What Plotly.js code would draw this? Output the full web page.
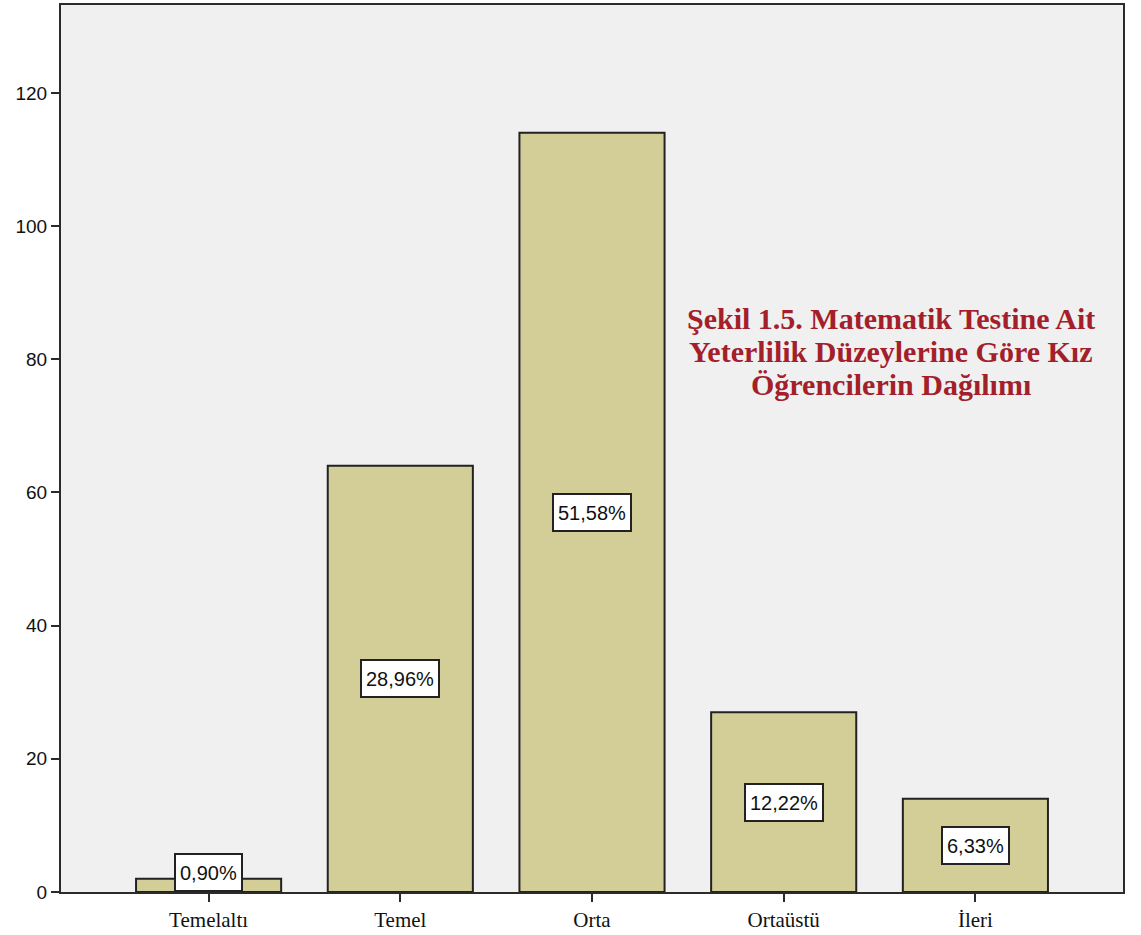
<!DOCTYPE html>
<html>
<head>
<meta charset="utf-8">
<script src="https://cdn.plot.ly/plotly-3.0.1.min.js"></script>
<style>html,body{margin:0;padding:0;background:#fff;}#chart{width:1141px;height:935px;}</style>
</head>
<body>
<div id="chart"></div>
<script>
const categories = ["Temelaltı", "Temel", "Orta", "Ortaüstü", "İleri"];
const counts = [2, 64, 114, 27, 14];
const percentLabels = ["0,90%", "28,96%", "51,58%", "12,22%", "6,33%"];
const yTicks = [0, 20, 40, 60, 80, 100, 120];
const titleLines = ["Şekil 1.5. Matematik Testine Ait", "Yeterlilik Düzeylerine Göre Kız", "Öğrencilerin Dağılımı"];

const trace = {
  type: "bar",
  x: categories,
  y: counts,
  width: 0.757,
  marker: {color: "#D3CE97", line: {color: "#222", width: 2}},
  hoverinfo: "skip"
};

const annotations = categories.map((c, i) => {
  const small = counts[i] / 2 < 3;
  return {
    x: c, y: small ? 0 : counts[i] / 2,
    xref: "x", yref: "y",
    yanchor: small ? "bottom" : "middle",
    text: percentLabels[i],
    showarrow: false,
    font: {family: "Liberation Sans, Arial, sans-serif", size: 20, color: "#111"},
    bgcolor: "#ffffff",
    bordercolor: "#222",
    borderwidth: 2,
    borderpad: 4,
    height: 27
  };
});

const titleY = [0.647, 0.609, 0.572];
titleLines.forEach((line, i) => {
  annotations.push({
    xref: "paper", yref: "paper",
    x: 0.782, y: titleY[i],
    xanchor: "center", yanchor: "middle",
    text: "<b>" + line + "</b>",
    showarrow: false,
    font: {family: "Liberation Serif, Times New Roman, serif", size: 30, color: "#A3202A"}
  });
});

const layout = {
  width: 1141, height: 935,
  margin: {l: 61, r: 18, t: 5, b: 43},
  paper_bgcolor: "#ffffff",
  plot_bgcolor: "#F0F0F0",
  showlegend: false,
  bargap: 0,
  xaxis: {
    type: "category",
    range: [-0.77, 4.77],
    showgrid: false, zeroline: false,
    showline: true, linecolor: "#2b2b2b", linewidth: 2, mirror: true,
    ticks: "outside", ticklen: 8, tickwidth: 2, tickcolor: "#2b2b2b",
    tickfont: {family: "Liberation Serif, Times New Roman, serif", size: 21, color: "#111"}
  },
  yaxis: {
    range: [0, 133.2],
    tickvals: yTicks,
    showgrid: false, zeroline: false,
    showline: true, linecolor: "#2b2b2b", linewidth: 2, mirror: true,
    ticks: "outside", ticklen: 8, tickwidth: 2, tickcolor: "#2b2b2b",
    tickfont: {family: "Liberation Sans, Arial, sans-serif", size: 19, color: "#111"}
  },
  annotations: annotations
};

Plotly.newPlot("chart", [trace], layout, {displayModeBar: false, staticPlot: true});
</script>
</body>
</html>
